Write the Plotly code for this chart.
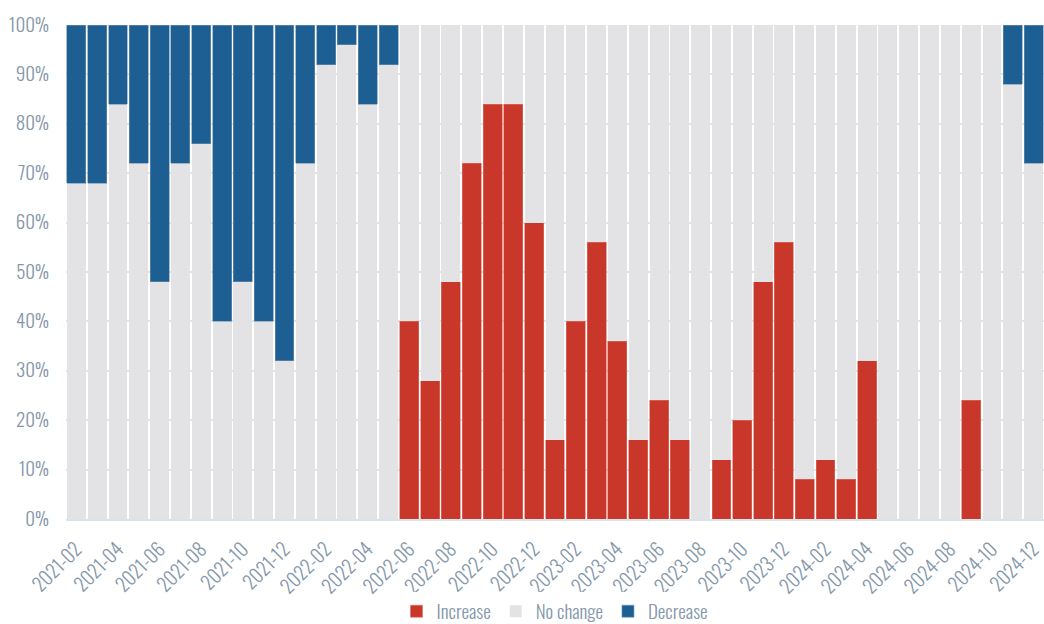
import plotly.graph_objects as go

months = [
    "2021-02", "2021-03", "2021-04", "2021-05", "2021-06", "2021-07", "2021-08", "2021-09",
    "2021-10", "2021-11", "2021-12", "2022-01", "2022-02", "2022-03", "2022-04", "2022-05",
    "2022-06", "2022-07", "2022-08", "2022-09", "2022-10", "2022-11", "2022-12", "2023-01",
    "2023-02", "2023-03", "2023-04", "2023-05", "2023-06", "2023-07", "2023-08", "2023-09",
    "2023-10", "2023-11", "2023-12", "2024-01", "2024-02", "2024-03", "2024-04", "2024-05",
    "2024-06", "2024-07", "2024-08", "2024-09", "2024-10", "2024-11", "2024-12",
]

increase = [
    0, 0, 0, 0, 0, 0, 0, 0, 0, 0, 0, 0, 0, 0, 0, 0,
    40, 28, 48, 72, 84, 84, 60, 16, 40, 56, 36, 16, 24, 16, 0, 12,
    20, 48, 56, 8, 12, 8, 32, 0, 0, 0, 0, 24, 0, 0, 0,
]

decrease = [
    32, 32, 16, 28, 52, 28, 24, 60, 52, 60, 68, 28, 8, 4, 16, 8,
    0, 0, 0, 0, 0, 0, 0, 0, 0, 0, 0, 0, 0, 0, 0, 0,
    0, 0, 0, 0, 0, 0, 0, 0, 0, 0, 0, 0, 0, 12, 28,
]

no_change = [100 - i - d for i, d in zip(increase, decrease)]

tick_labels = months[::2]
y_ticks = [0, 10, 20, 30, 40, 50, 60, 70, 80, 90, 100]
y_tick_text = [f"{v}%" for v in y_ticks]

RED = "#c9372a"
GRAY = "#e3e3e6"
BLUE = "#1d5f92"
TEXT = "#8497ab"
FONT = "Oswald, Roboto Condensed, sans-serif"


def nz(vals):
    return [v if v else None for v in vals]


fig = go.Figure()
fig.add_bar(x=months, y=nz(increase), name="Increase",
            marker=dict(color=RED, line=dict(color="#de7066", width=0.6)))
fig.add_bar(x=months, y=nz(no_change), name="No change",
            marker=dict(color=GRAY, line=dict(width=0)))
fig.add_bar(x=months, y=nz(decrease), name="Decrease",
            marker=dict(color=BLUE, line=dict(color="#6f93b3", width=0.6)))

fig.update_layout(
    barmode="stack",
    bargap=0.09,
    width=1044,
    height=624,
    margin=dict(l=66, r=0, t=25, b=105, autoexpand=False),
    paper_bgcolor="white",
    plot_bgcolor="white",
    font=dict(family=FONT, size=19, color=TEXT, weight=300),
    legend=dict(
        orientation="h",
        x=0.5,
        xanchor="center",
        y=-0.187,
        yanchor="middle",
        font=dict(family=FONT, size=19, color=TEXT, weight=300),
        traceorder="normal",
        itemwidth=30,
    ),
    xaxis=dict(
        type="category",
        categoryorder="array",
        categoryarray=months,
        tickmode="array",
        tickvals=tick_labels,
        ticktext=tick_labels,
        tickangle=-45,
        range=[-0.5, 46.5],
        showgrid=False,
        showline=True,
        linecolor="#dbe3ea",
        linewidth=2,
        ticks="",
        ticklabelstandoff=10,
        automargin=False,
        tickfont=dict(family=FONT, size=19, color=TEXT, weight=300),
    ),
    yaxis=dict(
        range=[0, 100],
        tickmode="array",
        tickvals=y_ticks,
        ticktext=y_tick_text,
        showgrid=True,
        gridcolor="#dde4ea",
        gridwidth=2,
        zeroline=False,
        ticks="",
        ticklabelstandoff=16,
        automargin=False,
        tickfont=dict(family=FONT, size=19, color=TEXT, weight=300),
    ),
    showlegend=True,
)

fig.write_html("out.html")
